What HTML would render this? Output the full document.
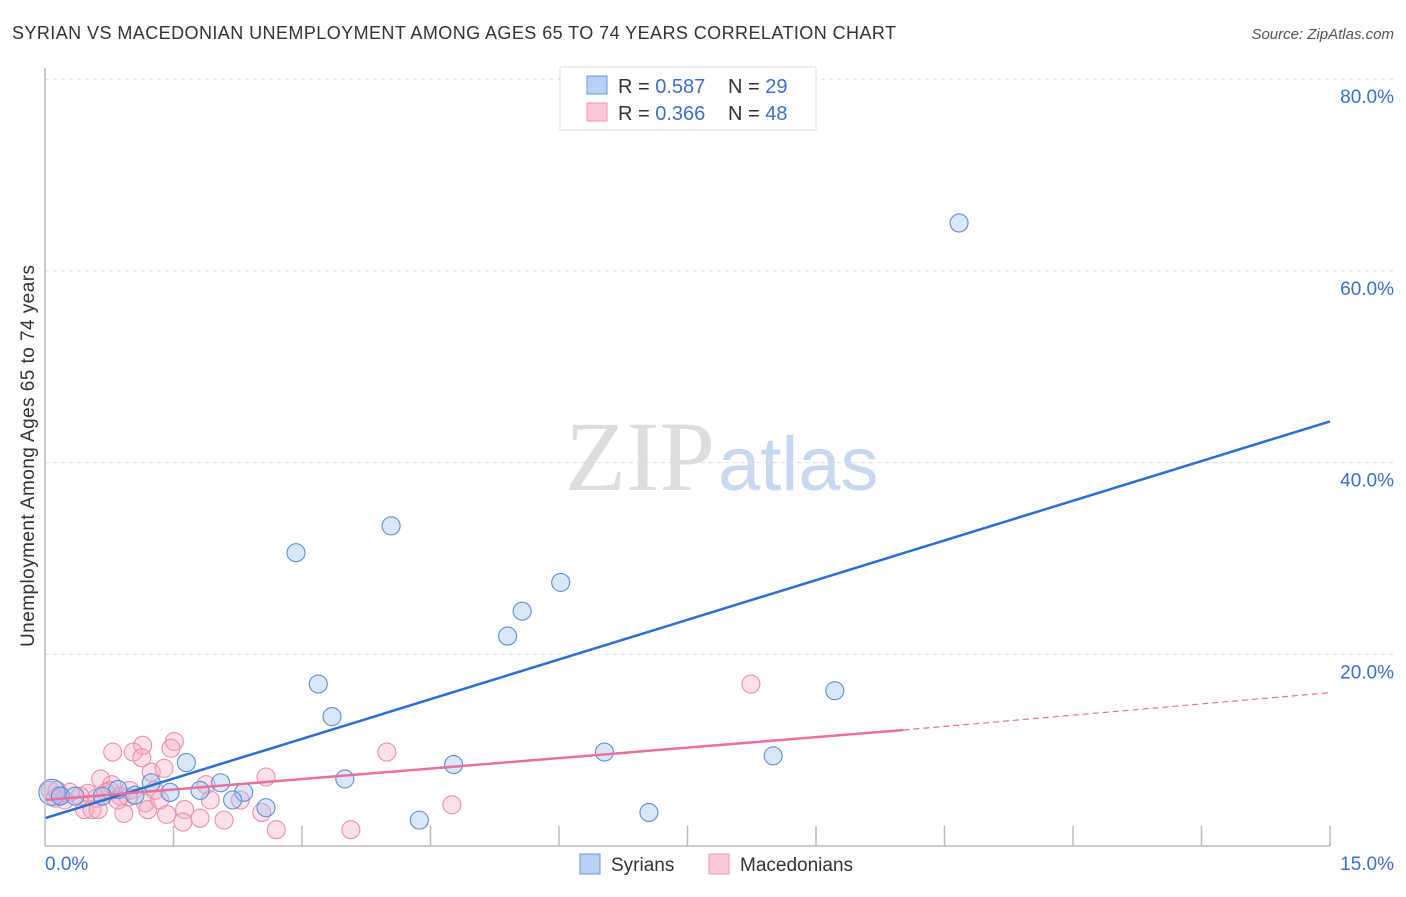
<!DOCTYPE html>
<html><head><meta charset="utf-8"><style>
body{margin:0;background:#fff;font-family:"Liberation Sans",sans-serif}
</style></head><body>
<svg width="1406" height="892" xmlns="http://www.w3.org/2000/svg" id="svg">
<text x="12" y="39" font-size="18" fill="#333" textLength="884">SYRIAN VS MACEDONIAN UNEMPLOYMENT AMONG AGES 65 TO 74 YEARS CORRELATION CHART</text>
<text x="1394" y="39" font-size="15" fill="#555" font-style="italic" text-anchor="end">Source: ZipAtlas.com</text>
<text x="715" y="490" font-size="100" fill="#ddd" text-anchor="end" font-family="Liberation Serif,serif">ZIP</text>
<text x="718" y="490" font-size="76" fill="#c8d8f0">atlas</text>
<text transform="translate(34,456) rotate(-90)" font-size="19" fill="#333" text-anchor="middle" textLength="382">Unemployment Among Ages 65 to 74 years</text>
<g id="grid"></g><g id="marks"></g><g id="lines"></g>
<line x1="45" y1="68" x2="45" y2="846" stroke="#bbb" stroke-width="1.5"/>
<line x1="45" y1="846" x2="1330" y2="846" stroke="#bbb" stroke-width="1.5"/>
<text x="45" y="870" font-size="19" fill="#3a6fd0">0.0%</text>
<text x="1394" y="870" font-size="19" fill="#3a6fd0" text-anchor="end">15.0%</text>
<g>
<rect x="560" y="67" width="256" height="63" fill="#fff" stroke="#ddd"/>
<rect x="587" y="76" width="20" height="18" fill="#b8d0f5" stroke="#6a9ae0"/>
<rect x="587" y="103" width="20" height="18" fill="#fbc8d8" stroke="#ec9ab5"/>
<text x="618" y="93" font-size="20" fill="#333">R = <tspan fill="#3a6fd0">0.587</tspan></text>
<text x="728" y="93" font-size="20" fill="#333">N = <tspan fill="#3a6fd0">29</tspan></text>
<text x="618" y="120" font-size="20" fill="#333">R = <tspan fill="#3a6fd0">0.366</tspan></text>
<text x="728" y="120" font-size="20" fill="#333">N = <tspan fill="#3a6fd0">48</tspan></text>
</g>
<g>
<rect x="580" y="854" width="20" height="20" fill="#b8d0f5" stroke="#6a9ae0"/>
<text x="611" y="871" font-size="19" fill="#333">Syrians</text>
<rect x="709" y="854" width="20" height="20" fill="#fbc8d8" stroke="#ec9ab5"/>
<text x="740" y="871" font-size="19" fill="#333">Macedonians</text>
</g>
</svg>
<script>
const yTicks=[20,40,60,80];
const yTickLabels=["20.0%","40.0%","60.0%","80.0%"];
const xTicks=[1.5,3,4.5,6,7.5,9,10.5,12,13.5,15];
const syrX=[10.67,4.04,2.93,6.02,5.57,5.40,3.19,9.22,3.35,6.53,8.50,1.65,4.77,3.50,2.05,1.24,1.46,1.81,2.32,2.19,2.58,4.37,7.05,0.08,0.85,0.67,1.05,0.18,0.35];
const syrY=[65.0,33.4,30.6,27.5,24.5,21.9,16.9,16.2,13.5,9.8,9.4,8.7,8.5,7.0,6.6,6.6,5.6,5.8,5.6,4.8,4.0,2.7,3.5,5.6,5.9,5.2,5.3,5.2,5.2];
const macX=[8.24,0.79,3.99,1.14,1.51,1.47,1.03,1.13,1.24,1.39,2.58,0.65,0.78,1.88,1.28,0.06,0.18,0.29,0.50,0.60,0.88,1.17,0.97,1.20,0.92,0.46,0.55,0.62,1.63,1.42,1.61,1.81,2.09,2.53,2.70,3.57,4.75,0.41,0.23,0.12,0.71,0.85,0.99,1.34,1.93,2.28,0.14,0.76];
const macY=[16.9,9.8,9.8,10.5,10.9,10.2,9.8,9.2,7.7,8.1,7.2,7.0,6.4,6.4,5.8,5.8,5.3,5.6,5.5,5.0,5.2,4.5,5.1,3.8,3.4,3.8,3.8,3.8,3.8,3.3,2.5,2.9,2.7,3.5,1.7,1.7,4.3,5.2,4.8,5.0,5.6,4.8,5.8,4.8,4.8,4.8,5.8,5.8];
const syrTrend=[[0,2.9],[15,44.3]];
const macTrendSolid=[[0,4.8],[10.02,12.1]];
const macTrendDash=[[10.02,12.1],[15,16.0]];
const NS="http://www.w3.org/2000/svg";
const sx=v=>45+v/15*1285;
const sy=v=>846-v/20*191.7;
function mk(t,a,p){const e=document.createElementNS(NS,t);for(const k in a)e.setAttribute(k,a[k]);document.getElementById(p).appendChild(e);return e;}
yTicks.forEach((t,i)=>{
 const l=mk('line',{x1:45,x2:1394,y1:sy(t),y2:sy(t),stroke:'#ddd','stroke-dasharray':'4,4'},'grid');
 
 
 const tx=mk('text',{x:1394,y:sy(t)+24,'font-size':19,fill:'#3a6fd0','text-anchor':'end'},'grid');
 tx.textContent=yTickLabels[i];
 
 
});
xTicks.forEach(t=>{
 const l=mk('line',{x1:sx(t),x2:sx(t),y1:826,y2:846,stroke:'#bbb','stroke-width':1.5},'grid');
 
 
});
macX.forEach((x,i)=>{
 const c=mk('circle',{cx:sx(x),cy:sy(macY[i]),r:9,fill:'rgba(245,165,190,0.35)',stroke:'#eb8fae','stroke-width':1.1},'marks');
 
 
});
syrX.forEach((x,i)=>{
 const c=mk('circle',{cx:sx(x),cy:sy(syrY[i]),r:i==23?13:9,fill:'rgba(160,195,240,0.4)',stroke:'#5b8fd8','stroke-width':1.1},'marks');
 
 
});
function ln(p,st,dash,name,w){
 const l=mk('line',{x1:sx(p[0][0]),y1:sy(p[0][1]),x2:sx(p[1][0]),y2:sy(p[1][1]),stroke:st,'stroke-width':w},'lines');
 if(dash)l.setAttribute('stroke-dasharray',dash);
 
 
}
ln(syrTrend,'#2a6fd6',null,'syrian-trendline',2.5);
ln(macTrendSolid,'#e8709a',null,'macedonian-trendline',2.5);
ln(macTrendDash,'#e8709a','6,4','macedonian-trendline-extension',1.2);
</script>
</body></html>
